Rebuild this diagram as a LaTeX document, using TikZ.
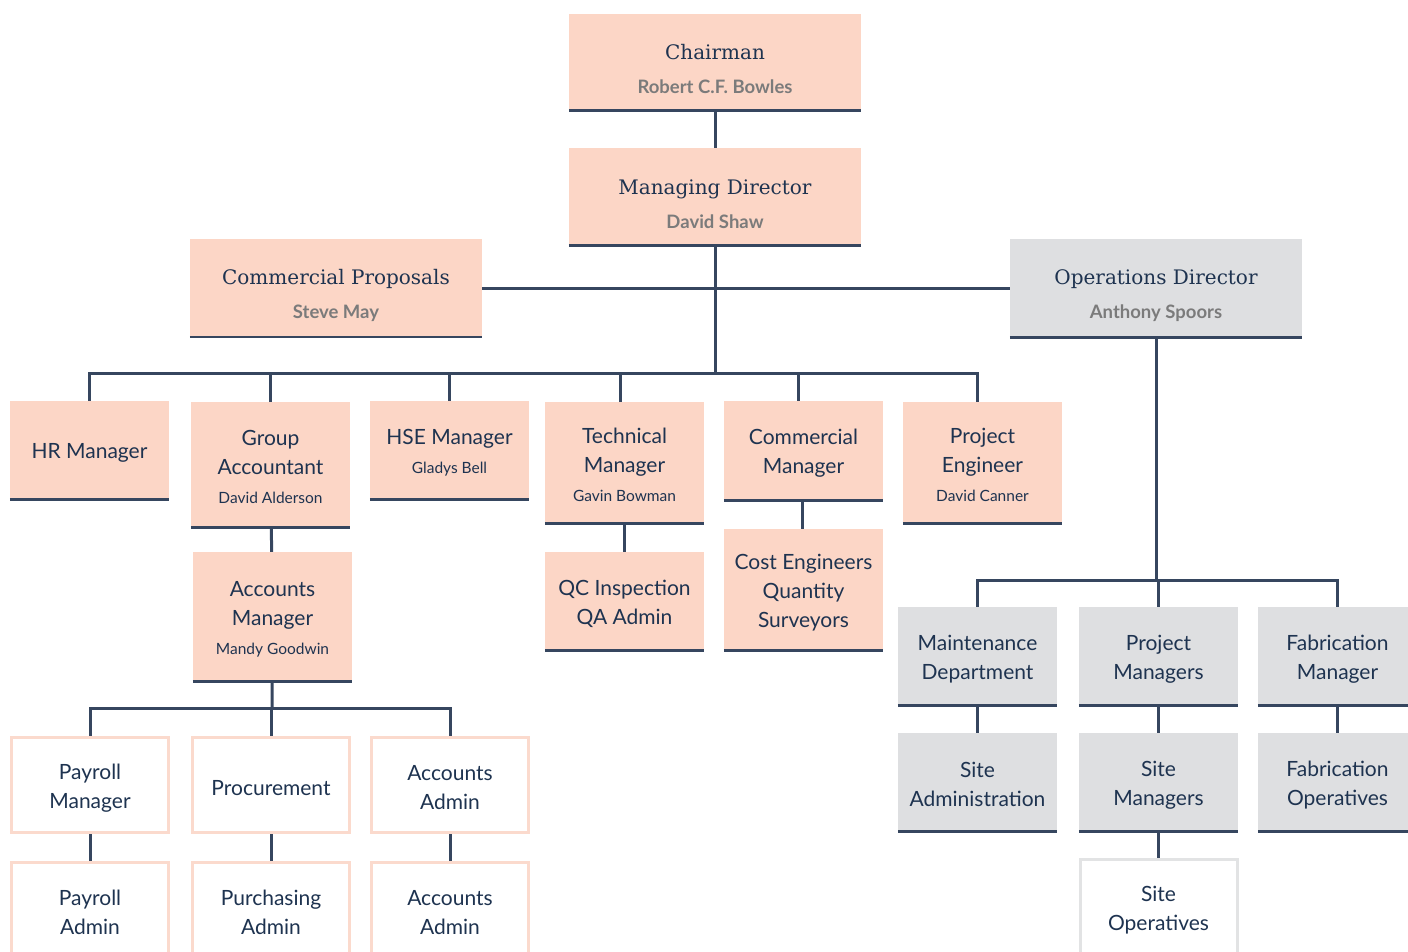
\documentclass[tikz,border=0pt]{standalone}
\usepackage{fontspec}
\setmainfont{Lato}
\newfontfamily\slabfont{DejaVu Serif}
\definecolor{peach}{HTML}{FCD6C6}
\definecolor{peachline}{HTML}{FBDACD}
\definecolor{ash}{HTML}{DEDFE1}
\definecolor{ashline}{HTML}{E2E3E4}
\definecolor{navy}{HTML}{1E3350}
\definecolor{wirecol}{HTML}{36465F}
\definecolor{namegray}{HTML}{7B7B7B}
% strut that pushes a box's text a little lower
\newcommand{\lift}{\rule{0pt}{21pt}}
\newcommand{\headline}[2]{{\slabfont\fontsize{20}{26}\selectfont\rule{0pt}{30pt}#1}\\[5pt]{\fontsize{18.5}{20}\selectfont\bfseries\color{namegray}#2}}
\newcommand{\who}[1]{{\fontsize{15.5}{18}\selectfont #1}}
\tikzset{
  box/.style={fill=peach, minimum width=159pt, minimum height=98pt, inner sep=0pt,
    align=center, text=navy, font=\fontsize{21}{29}\selectfont},
  bigbox/.style={box, minimum width=292pt, minimum height=97pt},
  greybox/.style={box, fill=ash},
  openbox/.style={box, fill=white, draw=peachline, line width=3pt},
  opengrey/.style={openbox, draw=ashline},
  wire/.style={draw=wirecol, line width=3pt},
  baseline/.style={draw=wirecol, line width=3pt},
}
\begin{document}
\begin{tikzpicture}[x=1pt,y=-1pt]
\useasboundingbox (0,0) rectangle (1408,951);
\clip (0,0) rectangle (1408,951);
% top of the chart
\node [bigbox] (chair) at (715,62) {\headline{Chairman}{Robert C.F. Bowles}};
\node [bigbox] (md) at (715,196.5) {\headline{Managing Director}{David Shaw}};
\node [bigbox, minimum height=98pt] (prop) at (336,288) {\headline{Commercial Proposals}{Steve May}};
\node [bigbox, fill=ash, minimum height=98pt] (ops) at (1156,288) {\headline{Operations Director}{Anthony Spoors}};
% managers row
\node [box] (hr) at (89.5,450) {\lift HR Manager};
\node [box, minimum height=125pt] (ga) at (270.5,464.5) {\lift Group\\Accountant\\\who{David Alderson}};
\node [box] (hse) at (449.5,450) {\lift HSE Manager\\\who{Gladys Bell}};
\node [box, minimum height=121pt] (tech) at (624.5,462.5) {\lift Technical\\Manager\\\who{Gavin Bowman}};
\node [box, minimum height=99pt] (cm) at (803.5,450.5) {\lift Commercial\\Manager};
\node [box, minimum height=121pt] (pe) at (982.5,462.5) {\lift Project\\Engineer\\\who{David Canner}};
% second level
\node [box, minimum height=129pt] (am) at (272.5,616.5) {\lift Accounts\\Manager\\\who{Mandy Goodwin}};
\node [box] (qc) at (624.5,601) {\lift QC Inspection\\QA Admin};
\node [box, minimum height=121pt] (ce) at (803.5,589.5) {\lift Cost Engineers\\Quantity\\Surveyors};
% accounts staff
\node [openbox, minimum width=157pt, minimum height=95pt] (paym) at (90,785) {\lift Payroll\\Manager};
\node [openbox, minimum width=157pt, minimum height=95pt] (proc) at (271,785) {\lift Procurement};
\node [openbox, minimum width=157pt, minimum height=95pt] (acad) at (450,785) {\lift Accounts\\Admin};
\node [openbox, minimum width=157pt, minimum height=95pt] (paya) at (90,910) {\lift Payroll\\Admin};
\node [openbox, minimum width=157pt, minimum height=95pt] (purch) at (271,910) {\lift Purchasing\\Admin};
\node [openbox, minimum width=157pt, minimum height=95pt] (acadb) at (450,910) {\lift Accounts\\Admin};
% operations side
\node [greybox] (maint) at (977.5,656) {\lift Maintenance\\Department};
\node [greybox] (pmgr) at (1158.5,656) {\lift Project\\Managers};
\node [greybox] (fab) at (1337.5,656) {\lift Fabrication\\Manager};
\node [greybox] (sadm) at (977.5,782) {\lift Site\\Administration};
\node [greybox] (smgr) at (1158.5,782) {\lift Site\\Managers};
\node [greybox] (fops) at (1337.5,782) {\lift Fabrication\\Operatives};
\node [opengrey, minimum width=157pt, minimum height=95pt] (sops) at (1158.5,907) {\lift Site\\Operatives};

% dark rule under the filled boxes
\foreach \n in {chair,md,ops,hr,ga,hse,tech,cm,pe,am,qc,ce,maint,pmgr,fab,sadm,smgr,fops}
  \draw [baseline] (\n.south west) -- (\n.south east);
\draw [baseline, line width=2pt] (prop.south west) -- (prop.south east);

% connectors
\coordinate (bus) at (715,373);
\coordinate (abus) at (272,708);
\coordinate (obus) at (1156,580);
\draw [wire] (chair) -- (md);
\draw [wire] (prop) -- (ops);
\draw [wire] (md) -- (bus);
\foreach \n in {hr,ga,hse}
  \draw [wire] (bus) -| (\n.north);
\draw [wire] (bus) -| ([xshift=-4.5pt]tech.north);
\draw [wire] (bus) -| ([xshift=-5.5pt]cm.north);
\draw [wire] (bus) -| ([xshift=-5.5pt]pe.north);
\draw [wire] (ga) -- (am);
\draw [wire] (tech) -- (qc);
\draw [wire] ([xshift=-1.5pt]cm.south) -- ([xshift=-1.5pt]ce.north);
\draw [wire] (am) -- (abus);
\foreach \n in {paym,proc,acad}
  \draw [wire] (abus) -| (\n.north);
\draw [wire] (paym) -- (paya);
\draw [wire] (proc) -- (purch);
\draw [wire] (acad) -- (acadb);
\draw [wire] (ops) -- (obus);
\foreach \n in {maint,pmgr,fab}
  \draw [wire] (obus) -| (\n.north);
\draw [wire] (maint) -- (sadm);
\draw [wire] (pmgr) -- (smgr);
\draw [wire] (fab) -- (fops);
\draw [wire] (smgr) -- (sops);
\end{tikzpicture}
\end{document}
